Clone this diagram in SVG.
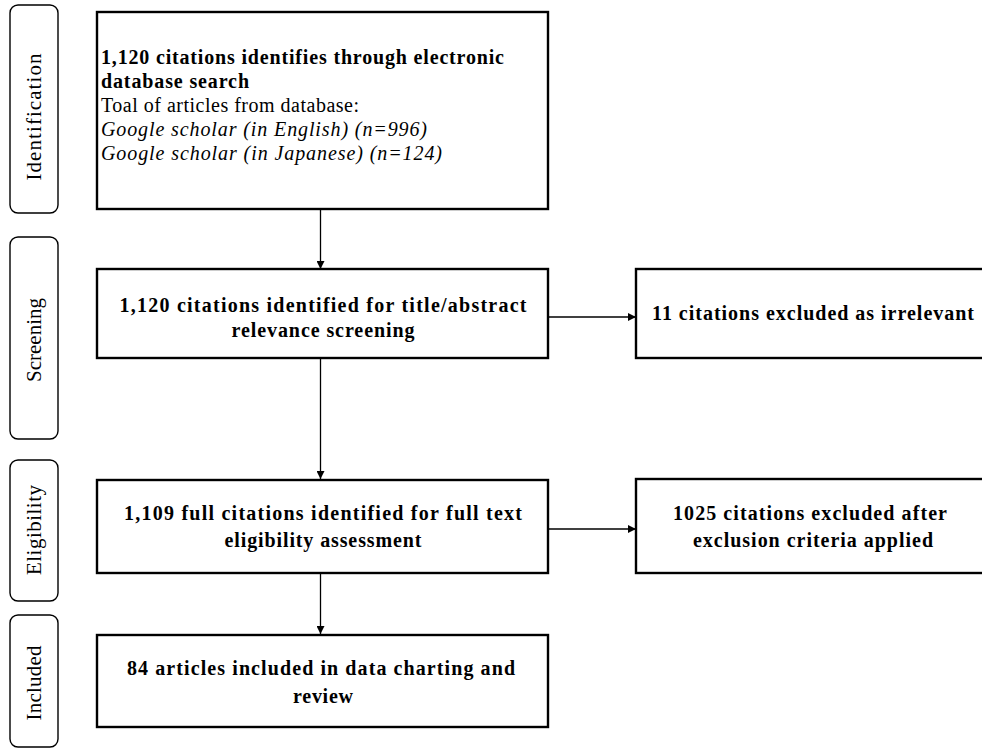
<svg xmlns="http://www.w3.org/2000/svg" width="982" height="749" viewBox="0 0 982 749">
<defs>
<style>
.box{fill:#fff;stroke:#000;stroke-width:2.4}
.side{fill:#fff;stroke:#000;stroke-width:1.4}
.t{font-family:"Liberation Serif","Times New Roman",serif;font-size:20px;fill:#000}
.s{font-size:21px}
.b{font-weight:bold}
.i{font-style:italic}
.c{text-anchor:middle}
.con{stroke:#000;stroke-width:1.3;fill:none}
</style>
<marker id="ah" viewBox="0 0 10 10" refX="10" refY="5" markerWidth="8" markerHeight="8" markerUnits="userSpaceOnUse" orient="auto">
<path d="M0,0 L10,5 L0,10 z" fill="#000"/>
</marker>
</defs>
<rect width="982" height="749" fill="#fff"/>
<g id="stage-identification">
<rect class="side" x="10" y="5" width="48" height="208" rx="8"/>
<text class="t s c" transform="translate(41,117) rotate(-90)" textLength="127">Identification</text>
</g>
<g id="stage-screening">
<rect class="side" x="10" y="237" width="48" height="202" rx="8"/>
<text class="t s c" transform="translate(41,340) rotate(-90)" textLength="84">Screening</text>
</g>
<g id="stage-eligibility">
<rect class="side" x="10" y="460" width="48" height="141" rx="8"/>
<text class="t s c" transform="translate(41,530) rotate(-90)" textLength="90">Eligibility</text>
</g>
<g id="stage-included">
<rect class="side" x="10" y="615" width="48" height="132" rx="8"/>
<text class="t s c" transform="translate(41,683) rotate(-90)" textLength="75">Included</text>
</g>
<g id="connectors">
<line class="con" x1="320.5" y1="210" x2="320.5" y2="269" marker-end="url(#ah)"/>
<line class="con" x1="320.5" y1="358" x2="320.5" y2="479" marker-end="url(#ah)"/>
<line class="con" x1="320.5" y1="573" x2="320.5" y2="634" marker-end="url(#ah)"/>
<line class="con" x1="548" y1="317" x2="636" y2="317" marker-end="url(#ah)"/>
<line class="con" x1="548" y1="529" x2="636" y2="529" marker-end="url(#ah)"/>
</g>
<g id="node-identified">
<rect class="box" x="97" y="12" width="451" height="197"/>
<text class="t b" x="101" y="64" textLength="403">1,120 citations identifies through electronic</text>
<text class="t b" x="101" y="88" textLength="148">database search</text>
<text class="t" x="101" y="112" textLength="258">Toal of articles from database:</text>
<text class="t i" x="101" y="136" textLength="326">Google scholar (in English) (n=996)</text>
<text class="t i" x="101" y="160" textLength="341">Google scholar (in Japanese) (n=124)</text>
</g>
<g id="node-screening">
<rect class="box" x="97" y="269" width="451" height="89"/>
<text class="t b c" x="323" y="312" textLength="407">1,120 citations identified for title/abstract</text>
<text class="t b c" x="323" y="337" textLength="183">relevance screening</text>
</g>
<g id="node-excluded-irrelevant">
<rect class="box" x="636" y="269" width="356" height="89"/>
<text class="t b c" x="813" y="320" textLength="322">11 citations excluded as irrelevant</text>
</g>
<g id="node-eligibility">
<rect class="box" x="97" y="480" width="451" height="93"/>
<text class="t b c" x="323" y="520" textLength="398">1,109 full citations identified for full text</text>
<text class="t b c" x="323" y="547" textLength="197">eligibility assessment</text>
</g>
<g id="node-excluded-criteria">
<rect class="box" x="636" y="479" width="356" height="94"/>
<text class="t b c" x="810" y="520" textLength="274">1025 citations excluded after</text>
<text class="t b c" x="813" y="547" textLength="240">exclusion criteria applied</text>
</g>
<g id="node-included">
<rect class="box" x="97" y="635" width="451" height="92"/>
<text class="t b c" x="321" y="675" textLength="388">84 articles included in data charting and</text>
<text class="t b c" x="323" y="703" textLength="60">review</text>
</g>
</svg>
